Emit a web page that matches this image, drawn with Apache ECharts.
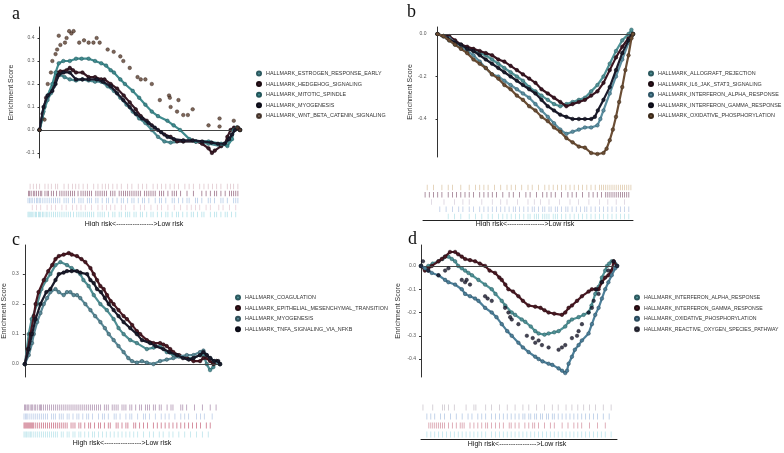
<!DOCTYPE html>
<html><head><meta charset="utf-8">
<script src="https://cdn.jsdelivr.net/npm/echarts@6/dist/echarts.min.js"></script>
<style>
html,body{margin:0;padding:0;background:#fff;width:784px;height:453px;overflow:hidden}
.p{position:absolute}
</style></head>
<body>
<div id="pa" class="p" style="left:0;top:0;width:392px;height:226px"></div>
<div id="pb" class="p" style="left:392px;top:0;width:392px;height:226px"></div>
<div id="pc" class="p" style="left:0;top:226px;width:392px;height:227px"></div>
<div id="pd" class="p" style="left:392px;top:226px;width:392px;height:227px"></div>
<script>
// ---------------- Panel a ----------------
const aNames = ['HALLMARK_ESTROGEN_RESPONSE_EARLY','HALLMARK_HEDGEHOG_SIGNALING','HALLMARK_MITOTIC_SPINDLE','HALLMARK_MYOGENESIS','HALLMARK_WNT_BETA_CATENIN_SIGNALING'];
const aEstrogen = [[0,0],[2,0.08],[4,0.13],[5.7,0.16],[7.2,0.19],[8.8,0.23],[10.4,0.24],[12.5,0.23],[15.1,0.22],[18.2,0.215],[21.4,0.22],[24.5,0.215],[27.7,0.21],[30.8,0.21],[34,0.19],[37.1,0.17],[40.3,0.14],[43.4,0.11],[46.5,0.08],[49.7,0.05],[52.8,0.03],[56,0.0],[59.1,-0.03],[62.3,-0.05],[65.4,-0.055],[71.7,-0.05],[78,-0.05],[84.3,-0.06],[90.6,-0.07],[93.7,-0.05],[96,-0.02],[98.4,0.01],[100,0]];
const aHedgehog = [[0,0],[1.5,0.07],[3.3,0.14],[5.7,0.17],[7.2,0.2],[8.8,0.25],[10.4,0.255],[13.5,0.26],[15.1,0.27],[16.7,0.26],[18.2,0.25],[21.4,0.25],[24.5,0.23],[27.7,0.23],[30.8,0.22],[32.4,0.22],[35.5,0.2],[38.7,0.18],[42,0.15],[45,0.12],[48,0.09],[50.5,0.06],[53.5,0.04],[56,0.02],[59.1,0.0],[62.3,-0.02],[65.4,-0.03],[68.6,-0.05],[71.7,-0.05],[78,-0.05],[81.1,-0.06],[84.3,-0.08],[86,-0.1],[87.4,-0.09],[90.6,-0.07],[92.5,-0.06],[93.7,-0.03],[95.3,0.0],[97,0.01],[100,0]];
const aMitotic = [[0,0],[1.5,0.05],[2.5,0.1],[4.1,0.15],[6.4,0.2],[8,0.25],[9.6,0.29],[11.9,0.3],[15.1,0.3],[18.2,0.31],[21,0.31],[24.5,0.31],[27.7,0.3],[30.8,0.29],[33.2,0.28],[35.5,0.26],[37.1,0.25],[40.3,0.22],[42.6,0.2],[46.5,0.17],[49.7,0.14],[52.8,0.11],[56,0.08],[59.1,0.06],[63.8,0.04],[66.9,0.02],[70.1,0.0],[74.8,-0.04],[78,-0.05],[84.3,-0.05],[90.6,-0.06],[93.7,-0.07],[96,-0.04],[96.9,0],[98.4,0.01],[100,0]];
const aMyogenesis = [[0,0],[2,0.1],[4.1,0.15],[6.4,0.17],[8,0.2],[9.6,0.24],[12,0.25],[15.1,0.25],[18.2,0.22],[21.4,0.22],[24.5,0.22],[28.5,0.22],[31.6,0.21],[35.5,0.19],[38.7,0.16],[41.8,0.13],[45,0.1],[48,0.07],[51.2,0.05],[54.4,0.03],[57.5,0.01],[60.7,-0.01],[63.8,-0.03],[67,-0.04],[71.7,-0.045],[76.4,-0.045],[81.1,-0.05],[85.8,-0.055],[89,-0.06],[92.2,-0.06],[94.5,-0.04],[96,-0.02],[97.5,0.0],[99,0.01],[100,0]];
const aWnt = [[0,0],[2.5,0.045],[4.1,0.2],[5.7,0.25],[6.4,0.3],[8,0.33],[8.8,0.35],[9.6,0.41],[10.4,0.37],[12.7,0.38],[13.5,0.4],[14.8,0.43],[15.9,0.42],[17,0.43],[19.8,0.38],[22.2,0.39],[24.5,0.38],[26.9,0.38],[28.5,0.4],[30,0.38],[34,0.35],[37,0.34],[40.3,0.32],[41.8,0.3],[45,0.27],[48.9,0.23],[50.5,0.22],[52.8,0.22],[56,0.2],[60,0.13],[64.6,0.15],[65,0.14],[65.4,0.1],[69.3,0.13],[68.6,0.08],[71.7,0.065],[74,0.065],[76.4,0.09],[84.3,0.02],[89.8,0.05],[89.8,0.015],[96.9,0.04],[98.7,0.01],[100,0]];
const aTicks = [-0.1,0,0.1,0.2,0.3,0.4];
const aRug1 = [1,2.5,4,5.5,8,9.5,11,13,14,17,19,21,22.5,24,26,28,31,33,35,36.5,38,40,42,44,47,49,52,54,56,59,61,63,65,67,69,71,74,76,78,81,83,85,87,89,91,94,95.5,97,99];
const aRug2 = [0.3,0.8,1.5,2.5,3.2,4,5,5.8,6.5,8,9,9.6,11,12,13.5,15,16,17,18,19,20,21,22,23.6,25,26,27,28,29,30,32,33,34,35,36,37,39,40,41,43,44,45,46,47,48,49,50,51,52,53,55,56,57,58,59,60,62,63,64,66,68,69,70,72,75,78,82,84,86,88,89,91,93,95,96,97,98,99];
const aRug3 = [0,0.7,1.4,2,3,4,4.6,5.3,6,7,8,9,10,11,12,13,14,15,17,18,19,21,22,24,25,26,28,29,30,32,33,35,37,38,40,42,44,45,47,49,50,52,54,55,57,60,62,63,65,68,69,71,73,75,76,79,80,82,85,86,88,91,92,94,97,98,99];
const aRug4 = [2,4,6,9,11,13,16,18,21,23,25,27,30,33,35,37,39,41,44,46,50,53,55,58,61,63,66,69,72,75,77,79,81,84,86,90,92,95,98];
const aRug5 = [0,0.5,1,1.5,2,2.8,3.5,4,5,5.5,6,6.8,7.5,8.5,9,10,11,12,13,14,15,16,17,18,19,20,21.5,23,24,25,26,27,28,29,30,31,33,34,35,36,38,40,41,43,44,46,47,48,50,51,53,54,56,58,59,61,63,65,66,68,70,71,73,75,77,78,80,82,83,86,88,89,91,93,94,96,98];

// ---------------- Panel b ----------------
const bNames = ['HALLMARK_ALLOGRAFT_REJECTION','HALLMARK_IL6_JAK_STAT3_SIGNALING','HALLMARK_INTERFERON_ALPHA_RESPONSE','HALLMARK_INTERFERON_GAMMA_RESPONSE','HALLMARK_OXIDATIVE_PHOSPHORYLATION'];
const bAllograft = [[0,0],[3,-0.01],[6,-0.03],[9,-0.05],[12,-0.06],[15.2,-0.07],[18.4,-0.08],[21.6,-0.09],[24.7,-0.1],[27.9,-0.12],[31.1,-0.14],[34.2,-0.16],[37.4,-0.18],[40.6,-0.2],[43.7,-0.22],[46.9,-0.25],[50.1,-0.27],[53.2,-0.29],[56.4,-0.31],[59.6,-0.33],[62.8,-0.34],[65.9,-0.33],[69.1,-0.32],[72.3,-0.31],[75.4,-0.3],[78.6,-0.27],[81.8,-0.24],[84.9,-0.2],[88.1,-0.14],[91.3,-0.08],[94.5,-0.03],[97.7,0.0],[99.2,0.02],[100,0]];
const bIl6 = [[0,0],[3,-0.01],[6,-0.01],[9,-0.03],[12,-0.05],[15.2,-0.06],[18.4,-0.07],[21.6,-0.08],[24.7,-0.09],[27.9,-0.1],[31.1,-0.12],[34.2,-0.13],[37.4,-0.15],[40.6,-0.17],[43.7,-0.19],[46.9,-0.21],[50.1,-0.23],[53.2,-0.26],[56.4,-0.28],[59.6,-0.3],[62.8,-0.32],[65.9,-0.34],[69.1,-0.33],[72.3,-0.32],[75.4,-0.31],[78.6,-0.29],[81.8,-0.27],[84.9,-0.23],[88.1,-0.17],[91.3,-0.11],[94.5,-0.06],[97.7,-0.02],[100,0]];
const bIfnA = [[0,0],[3,-0.01],[6,-0.02],[9,-0.04],[12,-0.06],[15.2,-0.08],[18.4,-0.1],[21.6,-0.13],[24.7,-0.16],[27.9,-0.19],[31.1,-0.2],[34.2,-0.22],[37.4,-0.24],[40.6,-0.26],[43.7,-0.28],[46.9,-0.3],[50.1,-0.33],[53.2,-0.36],[56.4,-0.39],[59.6,-0.42],[62.8,-0.45],[65.9,-0.47],[69.1,-0.46],[72.3,-0.45],[75.4,-0.44],[78.6,-0.44],[81.8,-0.43],[83.3,-0.4],[84.9,-0.36],[88.1,-0.28],[91.3,-0.2],[94.5,-0.12],[97.7,-0.04],[99.2,-0.01],[100,0]];
const bIfnG = [[0,0],[5,-0.02],[9,-0.04],[12,-0.05],[15.2,-0.07],[18.4,-0.08],[21.6,-0.1],[24.7,-0.12],[27.9,-0.14],[31.1,-0.16],[34.2,-0.18],[37.4,-0.2],[40.6,-0.22],[43.7,-0.24],[46.9,-0.26],[50.1,-0.28],[53.2,-0.31],[56.4,-0.34],[59.6,-0.36],[62.8,-0.38],[65.9,-0.39],[69.1,-0.4],[72.3,-0.4],[75.4,-0.4],[78.6,-0.4],[80.5,-0.39],[82,-0.36],[84.9,-0.31],[88.1,-0.25],[91.3,-0.17],[94.5,-0.09],[97.7,-0.03],[99.2,-0.01],[100,0]];
const bOxphos = [[0,0],[3,-0.01],[6,-0.03],[8.9,-0.05],[12,-0.07],[15.2,-0.09],[18.4,-0.12],[21.6,-0.14],[24.7,-0.16],[27.9,-0.19],[31.1,-0.21],[34.2,-0.24],[37.4,-0.26],[40.6,-0.29],[43.7,-0.31],[46.9,-0.34],[50.1,-0.36],[53.2,-0.39],[56.4,-0.41],[59.6,-0.44],[62.8,-0.46],[65.9,-0.49],[69.1,-0.51],[72.3,-0.53],[75.4,-0.535],[78.6,-0.56],[81.8,-0.565],[84.9,-0.56],[86.5,-0.54],[88.1,-0.5],[89.7,-0.45],[91.3,-0.39],[92.9,-0.32],[94.5,-0.25],[96.1,-0.17],[97.7,-0.1],[99.2,-0.02],[100,0]];
const bTicks = [-0.4,-0.2,0];
const bRug1 = [2,5,9,12,14,18,22,25,27,29,31,34,37,40,42,44,47,50,52,55,58,60,62,64,66,68,70,72,74,76,78,80,82,84,85,86,87,88,89,90,91,92,93,94,95,96,97,98,99];
const bRug2 = [1,3,5,7,9,12,14,16,18,20,22,24,27,29,31,33,35,38,41,43,46,49,51,54,57,59,61,63,66,69,71,73,76,79,81,83,85,87,88,89,90,91,92,93,94,95,96,97,98];
const bRug3 = [4,10,15,19,22,28,33,37,40,45,50,53,56,60,65,70,74,79,84,88,92,96];
const bRug4 = [8,11,14,17,19,22,24,27,29,31,33,35,37,39,41,43,44,46,48,50,52,53,55,57,58,60,61,63,64,66,68,69,71,73,75,77,78,80,82,84,86,88,90,92,94,96,98];
const bRug5 = [12,15,18,22,25,28,31,33,36,38,40,42,44,46,48,50,51,53,54,55,57,58,59,60,62,63,64,66,68,70,72,74,76,78,80,82,84,86,88,90,92,94,96,98];

// ---------------- Panel c ----------------
const cNames = ['HALLMARK_COAGULATION','HALLMARK_EPITHELIAL_MESENCHYMAL_TRANSITION','HALLMARK_MYOGENESIS','HALLMARK_TNFA_SIGNALING_VIA_NFKB'];
const cCoag = [[0,0],[2,0.1],[3.5,0.15],[6.3,0.2],[8.5,0.25],[11,0.28],[13.1,0.3],[15.7,0.33],[18.2,0.34],[21.6,0.33],[24,0.32],[28.4,0.3],[30,0.28],[32.7,0.26],[35.3,0.23],[38.7,0.2],[42,0.18],[45.5,0.15],[48,0.12],[50.6,0.1],[54,0.08],[57.4,0.07],[62.5,0.05],[66,0.055],[69.3,0.06],[72.7,0.04],[76.1,0.03],[80,0.025],[83,0.02],[86.4,0.02],[89.8,0.03],[91.5,0.03],[93.2,0.0],[94.9,-0.02],[96.6,-0.01],[98.3,0.01],[100,0]];
const cEmt = [[0,0],[1.5,0.05],[2.9,0.1],[4.6,0.16],[5.5,0.2],[7,0.24],[9.7,0.28],[12,0.31],[14,0.33],[15.7,0.35],[17.4,0.36],[19.9,0.365],[22.5,0.37],[24,0.365],[26.7,0.36],[29,0.35],[31,0.34],[33.6,0.32],[35.3,0.3],[37,0.28],[38.7,0.26],[40.4,0.25],[42.1,0.23],[44,0.21],[45.5,0.2],[48,0.18],[50.6,0.16],[52.3,0.15],[55,0.13],[57.4,0.11],[59.1,0.1],[62.5,0.08],[65.9,0.07],[69.3,0.07],[71,0.065],[72.7,0.06],[74.5,0.05],[76.1,0.04],[79,0.03],[83,0.02],[86.4,0.01],[89.8,0.01],[91.5,0.02],[93.2,0.02],[94.9,0.01],[96.6,0.0],[98.3,0.01],[100,0]];
const cMyo = [[0,0],[2,0.03],[3.7,0.07],[4.6,0.1],[6.3,0.14],[8,0.17],[9.7,0.2],[11.4,0.22],[13.1,0.24],[15.7,0.25],[17.4,0.24],[19.9,0.23],[21.6,0.24],[23.3,0.24],[25,0.23],[26.7,0.23],[28.4,0.22],[31,0.2],[33.6,0.18],[36,0.16],[38.7,0.14],[41,0.12],[43,0.1],[45.5,0.08],[48,0.06],[50.6,0.04],[53,0.02],[54.9,0.01],[57.4,0.005],[60,0.01],[62.5,0.005],[65.9,0.0],[69.3,0.01],[72.7,0.015],[76.1,0.02],[79,0.025],[83,0.03],[86.4,0.03],[89.8,0.04],[91.5,0.045],[93.2,0.03],[95,0.02],[97,0.01],[100,0]];
const cTnfa = [[0,0],[2,0.05],[3.7,0.1],[5.5,0.15],[8,0.2],[11,0.24],[13.1,0.25],[15.7,0.28],[17.4,0.3],[19.9,0.305],[21.6,0.31],[24,0.31],[26.7,0.31],[28.4,0.305],[31.9,0.3],[33.6,0.28],[35.3,0.27],[37,0.25],[39,0.24],[41,0.22],[43,0.2],[45.5,0.18],[48,0.16],[50.6,0.14],[54,0.12],[57.4,0.1],[60,0.08],[64.2,0.07],[67,0.06],[71,0.05],[74,0.04],[77.9,0.03],[81,0.02],[84,0.015],[86.4,0.02],[89.8,0.03],[91.5,0.04],[93.2,0.03],[95,0.02],[97,0.01],[99.1,0.01],[100,0]];
const cTicks = [0,0.1,0.2,0.3];
const cRug1 = [0.3,0.8,1.5,2,2.5,3.5,4,4.5,5.5,6,7,8,8.5,9,10,11,12,13,14,15,16,17,18,19,20,21,22,23,24,25,26,27,28,29,30,31,32,33,34,35,36,37,38,39,41,42,43,45,46,47,48,50,51,52,54,55,57,59,60,62,63,64,66,67,69,70,73,75,76,80,81,83,87,91,95,98];
const cRug2 = [0,0.7,1.4,2,3,4,5,6,7,8,9,10,11,12,14,15,16,18,19,20,22,23,25,27,28,30,32,33,35,38,40,41,43,46,47,49,52,54,55,58,61,62,64,67,70,72,74,77,80,82,84,88,90,92,96];
const cRug3 = [0,0.5,1,1.5,2,2.5,3,3.5,4,4.5,5,6,7,8,9,10,11,12,13,14,15,16,17,18,19,20,21,22,24,25,26,28,29,31,33,34,36,38,39,41,43,44,47,48,50,52,53,56,57,59,61,63,66,68,70,72,74,76,78,80,82,84,86,88,90,93,95];
const cRug4 = [0,0.6,1.2,2,2.6,3.4,4,5,6,7,8,9,10,11,12,13,14,15,16,17,19,20,22,23,25,26,28,29,31,33,35,36,38,40,42,44,46,48,50,52,54,56,58,61,64,66,69,71,74,76,79,82,85,88,91,94];

// ---------------- Panel d ----------------
const dNames = ['HALLMARK_INTERFERON_ALPHA_RESPONSE','HALLMARK_INTERFERON_GAMMA_RESPONSE','HALLMARK_OXIDATIVE_PHOSPHORYLATION','HALLMARK_REACTIVE_OXYGEN_SPECIES_PATHWAY'];
const dIfnA = [[0,0],[2,-0.01],[3.7,0.0],[6,0.01],[8.9,0.02],[11,0.03],[12.3,0.04],[14,0.04],[15.7,0.03],[17.4,0.02],[19,0.0],[20.8,-0.01],[22.5,-0.02],[24.2,-0.03],[26,-0.04],[29.3,-0.06],[32.7,-0.08],[36.1,-0.1],[38,-0.12],[41.2,-0.15],[43,-0.17],[46.3,-0.2],[48,-0.21],[51.4,-0.23],[53.2,-0.24],[56,-0.26],[58.3,-0.28],[60,-0.29],[63,-0.295],[65.1,-0.29],[68,-0.285],[70.2,-0.28],[73.6,-0.26],[75.3,-0.24],[77,-0.23],[80.4,-0.22],[83,-0.21],[85.5,-0.2],[87,-0.17],[88.9,-0.12],[90.6,-0.09],[92.3,-0.05],[94,-0.02],[94.9,0.0],[96,0.01],[97.3,0.02],[99.1,0.01],[100,0]];
const dIfnG = [[0,0],[2,-0.02],[3.7,-0.01],[5.5,0.0],[8.9,0.02],[10.6,0.03],[12.3,0.04],[14.8,0.06],[17.4,0.06],[19,0.05],[20.8,0.04],[22.5,0.03],[25,0.025],[27.6,0.02],[30,0.01],[32.7,0.0],[35,-0.02],[37.8,-0.03],[40,-0.05],[41.2,-0.06],[43,-0.08],[44.6,-0.1],[47,-0.11],[49.7,-0.13],[52,-0.15],[54.9,-0.17],[58.3,-0.175],[61,-0.18],[63,-0.19],[65.1,-0.2],[68,-0.205],[71.9,-0.21],[73.6,-0.2],[75.3,-0.18],[77,-0.17],[79.6,-0.15],[82.1,-0.13],[85.5,-0.11],[87.2,-0.1],[89,-0.1],[90.6,-0.1],[92.3,-0.07],[94,-0.05],[95.6,-0.04],[97.3,-0.02],[98.3,0.02],[100,0]];
const dOxphos = [[0,0],[2,-0.01],[3.7,-0.02],[5.5,-0.03],[8.9,-0.04],[12.3,-0.06],[14,-0.07],[17.4,-0.08],[20.8,-0.1],[22.5,-0.12],[25,-0.13],[27.6,-0.14],[29.3,-0.15],[32.7,-0.18],[36.1,-0.2],[38.5,-0.22],[41.2,-0.25],[44,-0.28],[46.3,-0.3],[49.7,-0.33],[52,-0.35],[54.9,-0.37],[58.3,-0.39],[60,-0.4],[62,-0.41],[65.1,-0.42],[67,-0.425],[70.2,-0.44],[72,-0.45],[73.6,-0.46],[74.5,-0.45],[75.3,-0.42],[77,-0.39],[78.5,-0.36],[80.4,-0.34],[82.1,-0.32],[85.5,-0.29],[87.2,-0.25],[88.9,-0.21],[90.6,-0.18],[92.3,-0.14],[94,-0.1],[95.6,-0.07],[97.3,-0.04],[99.1,-0.01],[100,0]];
const dRos = [[0,0],[1,0.02],[3.7,-0.02],[8.9,-0.04],[12.3,-0.02],[14,-0.01],[20.8,-0.06],[22.5,-0.07],[23.3,-0.06],[25,-0.08],[32.7,-0.13],[34,-0.14],[36.1,-0.15],[42.9,-0.18],[44.6,-0.2],[45.5,-0.22],[46.3,-0.23],[49.7,-0.25],[54,-0.3],[57,-0.31],[58.3,-0.33],[60,-0.32],[61.7,-0.34],[65.1,-0.35],[70.2,-0.36],[71.9,-0.35],[73.6,-0.34],[77,-0.31],[79.6,-0.3],[80.4,-0.28],[82.1,-0.25],[85.5,-0.2],[87.2,-0.18],[88.1,-0.15],[89.5,-0.1],[90.6,-0.12],[92.3,-0.07],[95.6,-0.02],[98.3,0.02],[100,0]];
const dTicks = [-0.4,-0.3,-0.2,-0.1,0];
const dRug1 = [1,6,11,12,14,17,23,27,28,33,36,40,44,48,52,55,59,63,67,70,74,77,80,83,86,89,93,97];
const dRug2 = [3,5,7,10,12,15,18,21,24,26,29,31,33,36,38,40,42,44,46,48,50,52,53,55,56,58,59,61,62,64,65,67,68,70,72,74,76,78,80,82,84,86,88,90,93,96];
const dRug3 = [4,5,6,7,8,9,10,11,12,14,16,18,20,21,22,25,27,29,31,33,34,36,38,40,42,45,46,48,50,53,55,57,58,60,63,66,68,72,75,78,80,82,86,90,94];
const dRug4 = [3,5,7,9,11,13,15,17,19,21,23,25,27,29,31,33,36,38,40,42,44,46,48,50,52,54,56,58,60,62,64,66,68,70,72,74,76,78,80,82,84,86,88,90,92,94,97];

const RISK_LABEL = 'High risk<---------------->Low risk';
const FONT = '"Liberation Sans", Arial, Helvetica, sans-serif';

function panel(id, P) {
  const chart = echarts.init(document.getElementById(id), null, {renderer: 'canvas'});
  const series = [];
  P.sets.forEach((s, i) => {
    series.push({
      name: s.name,
      type: s.sparse ? 'scatter' : 'line',
      xAxisIndex: 0, yAxisIndex: 0,
      data: s.data,
      symbol: 'circle', symbolSize: 3.6, showAllSymbol: true,
      lineStyle: {width: 2.2, color: s.color},
      itemStyle: {color: s.color, borderColor: s.edge, borderWidth: 0.5},
      z: 3 + i, silent: true,
      markLine: i === 0 ? {
        silent: true, symbol: ['none', 'none'], label: {show: false},
        lineStyle: {color: '#444', width: 1, type: 'solid'},
        data: [{yAxis: 0}], animation: false
      } : undefined
    });
  });
  P.rugs.forEach((r, i) => {
    series.push({
      type: 'scatter', xAxisIndex: 1, yAxisIndex: 1, silent: true,
      data: r.hits.map(h => [h, i]),
      symbol: 'rect', symbolSize: [0.8, P.rugBar],
      itemStyle: {color: r.color, opacity: 0.85}
    });
  });
  const rows = P.rugs.map((r, i) => i);
  chart.setOption({
    animation: false,
    grid: [
      {left: P.gx, top: P.gy, width: P.gw, height: P.gh},
      {left: P.gx, top: P.ry, width: P.gw, height: P.rh}
    ],
    xAxis: [
      {gridIndex: 0, type: 'value', min: 0, max: 100, show: false},
      {gridIndex: 1, type: 'value', min: 0, max: 100, show: true,
       axisLine: {show: P.rugLine, onZero: false, lineStyle: {color: '#222', width: 1}},
       axisTick: {show: false}, axisLabel: {show: false}, splitLine: {show: false}}
    ],
    yAxis: [
      {gridIndex: 0, type: 'value', min: P.ymin, max: P.ymax,
       axisLine: {show: true, lineStyle: {color: '#333', width: 1}},
       axisTick: {show: true, length: 2, customValues: P.ticks, lineStyle: {color: '#333'}},
       axisLabel: {customValues: P.ticks, fontSize: 5, color: '#555', fontFamily: FONT, margin: P.labMargin,
                   formatter: v => (Math.abs(v) < 1e-9 ? 0 : v).toFixed(1)},
       splitLine: {show: false},
       name: 'Enrichment Score', nameLocation: 'middle', nameGap: P.nameGap,
       nameTextStyle: {fontSize: 7, color: '#333', fontFamily: FONT}},
      {gridIndex: 1, type: 'category', data: rows, inverse: true, show: false}
    ],
    legend: {
      data: P.sets.map(s => s.name), orient: 'vertical', left: P.lx, top: P.ly, padding: 0,
      icon: 'circle', itemWidth: 4, itemHeight: 4, itemGap: 3.6, selectedMode: false,
      textStyle: {fontSize: P.legFont || 5.4, color: '#333', fontFamily: FONT, lineHeight: 7}
    },
    graphic: [
      {type: 'text', left: P.letX, top: P.letY, silent: true,
       style: {text: P.letter, font: '18px "Liberation Serif", "Times New Roman", serif', fill: '#111'}},
      {type: 'text', x: P.labX, y: P.labY, silent: true,
       style: {text: RISK_LABEL, font: '7px ' + FONT, fill: '#111', textAlign: 'center', textVerticalAlign: 'middle'}}
    ],
    series: series
  });
}

panel('pa', {
  letter: 'a', letX: 12, letY: 5,
  gx: 28, gy: 27, gw: 212, gh: 131, ymin: -0.122, ymax: 0.448, ticks: aTicks, labMargin: 5, nameGap: 19,
  ry: 183, rh: 35, rugBar: 5.5, rugLine: false,
  lx: 256, ly: 70, labX: 134, labY: 224,
  sets: [
    {name: aNames[0], data: aEstrogen, color: '#4d8c93', edge: '#2d5a60'},
    {name: aNames[1], data: aHedgehog, color: '#3a1a26', edge: '#1a0a10'},
    {name: aNames[2], data: aMitotic, color: '#3f8b8e', edge: '#22555a'},
    {name: aNames[3], data: aMyogenesis, color: '#1b1b2e', edge: '#0a0a15'},
    {name: aNames[4], data: aWnt, color: '#5c4030', edge: '#2a1a12', sparse: true}
  ],
  rugs: [
    {hits: aRug1, color: '#d9bcc4'}, {hits: aRug2, color: '#8c5a74'}, {hits: aRug3, color: '#a9c4e4'},
    {hits: aRug4, color: '#e2c4ce'}, {hits: aRug5, color: '#a8dde6'}
  ]
});

panel('pb', {
  letter: 'b', letX: 15, letY: 3,
  gx: 31, gy: 27, gw: 210, gh: 130, ymin: -0.579, ymax: 0.033, ticks: bTicks, labMargin: 11, nameGap: 22,
  ry: 184, rh: 36, rugBar: 5.5, rugLine: true,
  lx: 256, ly: 70, labX: 133, labY: 224,
  sets: [
    {name: bNames[0], data: bAllograft, color: '#4f9296', edge: '#2d5a60'},
    {name: bNames[1], data: bIl6, color: '#3a1420', edge: '#1a0a10'},
    {name: bNames[2], data: bIfnA, color: '#5b8fa0', edge: '#2f5566'},
    {name: bNames[3], data: bIfnG, color: '#1a1a2a', edge: '#0a0a15'},
    {name: bNames[4], data: bOxphos, color: '#6b4e35', edge: '#3a2818'}
  ],
  rugs: [
    {hits: bRug1, color: '#d8bf9c'}, {hits: bRug2, color: '#8a6078'}, {hits: bRug3, color: '#d4cad8'},
    {hits: bRug4, color: '#b0c2e2'}, {hits: bRug5, color: '#b0e0e8'}
  ]
});

panel('pc', {
  letter: 'c', letX: 12, letY: 5,
  gx: 24, gy: 19, gw: 196, gh: 132, ymin: -0.043, ymax: 0.397, ticks: cTicks, labMargin: 6, nameGap: 16,
  ry: 177, rh: 36, rugBar: 6, rugLine: false,
  lx: 235, ly: 68, labX: 122, labY: 217,
  sets: [
    {name: cNames[0], data: cCoag, color: '#4f8f94', edge: '#2d5a60'},
    {name: cNames[1], data: cEmt, color: '#4a1822', edge: '#200a10'},
    {name: cNames[2], data: cMyo, color: '#5a8a98', edge: '#30505a'},
    {name: cNames[3], data: cTnfa, color: '#1a1a2a', edge: '#0a0a15'}
  ],
  rugs: [
    {hits: cRug1, color: '#a282a4'}, {hits: cRug2, color: '#b0c4e4'}, {hits: cRug3, color: '#c25a72'}, {hits: cRug4, color: '#b0dfe8'}
  ]
});

panel('pd', {
  letter: 'd', letX: 16, letY: 4,
  gx: 29, gy: 19, gw: 196, gh: 132, ymin: -0.477, ymax: 0.09, ticks: dTicks, labMargin: 5, nameGap: 19,
  ry: 177, rh: 36, rugBar: 6, rugLine: true,
  lx: 242, ly: 68, labX: 125, labY: 218, legFont: 5.2,
  sets: [
    {name: dNames[0], data: dIfnA, color: '#4f9296', edge: '#2d5a60'},
    {name: dNames[1], data: dIfnG, color: '#4a1822', edge: '#200a10'},
    {name: dNames[2], data: dOxphos, color: '#4c7f99', edge: '#2a4a5c'},
    {name: dNames[3], data: dRos, color: '#15152a', edge: '#0a0a15', sparse: true}
  ],
  rugs: [
    {hits: dRug1, color: '#c4bcc6'}, {hits: dRug2, color: '#a8c0e0'}, {hits: dRug3, color: '#d08898'}, {hits: dRug4, color: '#b0e0ea'}
  ]
});
</script>
</body></html>
